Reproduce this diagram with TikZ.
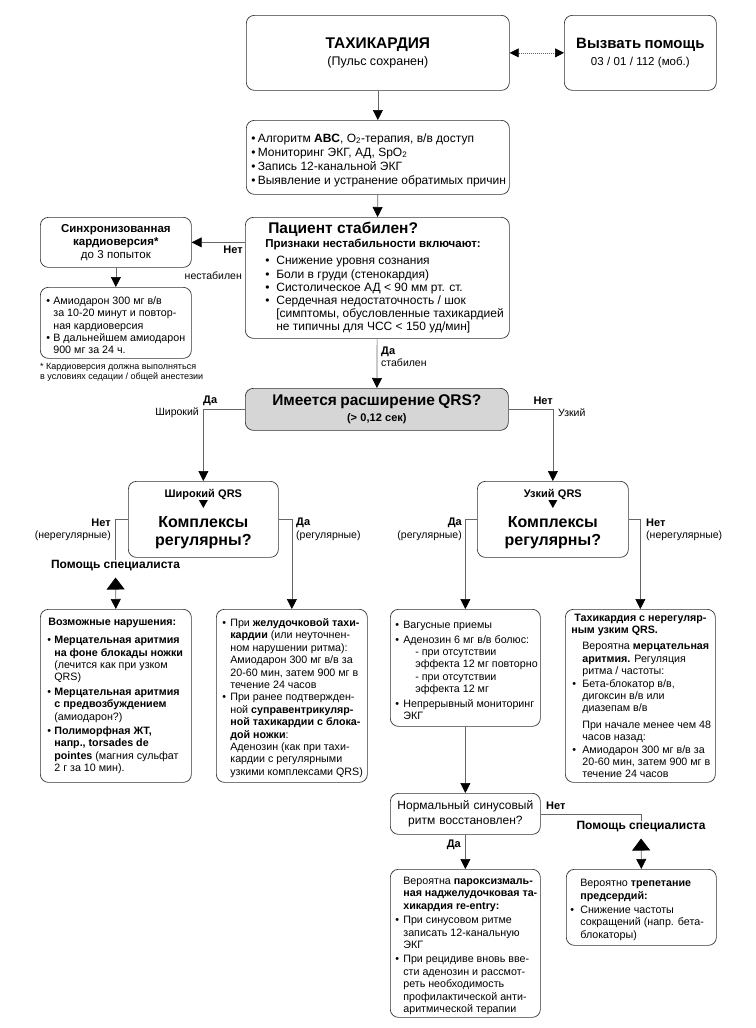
\documentclass[tikz,border=0pt]{standalone}
\usepackage{fontspec}
\setmainfont{Liberation Sans}
\usetikzlibrary{arrows.meta,positioning,calc}
\hyphenpenalty=10000 \exhyphenpenalty=10000
\newlength\bi \setlength\bi{8pt}
\newlength\bo \setlength\bo{0pt}
\newcommand\fs[2]{\fontsize{#1}{#2}\selectfont}
\newcommand\setup[3]{\leftskip=#1pt\relax\rightskip=-8pt plus 1fil\relax
  \setlength\bi{#2pt}\setlength\bo{#3pt}}
\newcommand\bul[1]{\par\noindent\hangindent=\bi\hangafter=1
  \makebox[\bi][l]{\hspace*{\bo}\textbullet}#1\par}
\newcommand\ind[1]{\par\noindent\hangindent=\bi\hangafter=0 #1\par}

\begin{document}
\begin{tikzpicture}[x=1pt, y=-1pt,
  box/.style={draw=black!80, line width=0.7pt, rounded corners=8pt,
              inner sep=0pt, anchor=north west},
  note/.style={box, align=flush left, font={\fs{10.7}{12.4}}},
  mid/.style={box, align=center},
  lbl/.style={inner sep=0pt, font={\fs{10.5}{12}}},
  blbl/.style={inner sep=0pt, font={\fs{11}{12}\bfseries}},
  help/.style={inner sep=0pt, font={\fs{12}{14}\bfseries}},
  line/.style={draw=black!60, line width=0.7pt},
  arr/.style={line, -{Triangle[length=10pt,width=10pt,color=black]}},
  twin/.style={line, {Triangle[length=12pt,width=18pt,color=black]}-{Triangle[length=10pt,width=10pt,color=black]}}
]
\useasboundingbox (0,0) rectangle (755,1028);

% top row
\node[mid, text width=263pt, minimum height=75pt] (tachy) at (246,15)
  {{\fs{15.5}{18}\bfseries ТАХИКАРДИЯ\par}{\fs{12.5}{16.5}(Пульс сохранен)\par}};
\node[mid, text width=152pt, minimum height=75pt] (call) at (564,15)
  {{\fs{15}{18}\bfseries Вызвать помощь\par}{\fs{11.5}{16.5}03 / 01 / 112 (моб.)\par}};
\node[note, text width=263pt, minimum height=74pt, font={\fs{12}{14}}] (prim) at (246,120)
  {\setup{5}{6.5}{0}
   \bul{Алгоритм \textbf{ABC}, O\textsubscript{2}-терапия, в/в доступ}
   \bul{Мониторинг ЭКГ, АД, SpO\textsubscript{2}}
   \bul{Запись 12-канальной ЭКГ}
   \bul{Выявление и устранение обратимых причин}};

% stability check
\node[note, text width=264pt, minimum height=121pt] (stable) at (245,217)
  {\setup{20}{11}{0}
   {\fs{15.5}{17}\bfseries Пациент стабилен?\par}
   {\fs{11.5}{14}\bfseries Признаки нестабильности включают:\par}
   \vspace{4pt}
   {\fs{12}{13.2}
   \bul{Снижение уровня сознания}
   \bul{Боли в груди (стенокардия)}
   \bul{Систолическое АД < 90 мм рт. ст.}
   \bul{Сердечная недостаточность / шок\newline [симптомы, обусловленные тахикардией\newline не типичны для ЧСС < 150 уд/мин]}}};
\node[mid, text width=151pt, minimum height=50pt] (sync) at (40,217)
  {{\fs{11.5}{13}\bfseries Синхронизованная\par кардиоверсия*\par}{\fs{11.5}{13}до 3 попыток\par}};
\node[note, text width=151pt, minimum height=71pt] (amio) at (40,287)
  {\setup{6}{7}{0}
   \bul{Амиодарон 300 мг в/в\newline за 10-20 минут и повтор-\newline ная кардиоверсия}
   \bul{В дальнейшем амиодарон\newline 900 мг за 24 ч.}};
\node[inner sep=0pt, anchor=north west, align=left, font={\fs{9}{10}}] (foot) at (40,363)
  {* Кардиоверсия должна выполняться\\в условиях седации / общей анестезии};

% QRS width
\node[mid, fill=black!16, text width=263pt, minimum height=42pt] (qrs) at (245,388)
  {{\fs{15.5}{17}\bfseries Имеется расширение QRS?\par}{\fs{11}{16}\bfseries (> 0,12 сек)\par}};
\node[mid, text width=150pt, minimum height=76pt] (wide) at (128,481)
  {{\fs{11}{13}\bfseries Широкий QRS\par}\vspace{12pt}{\fs{16}{18}\bfseries Комплексы\par регулярны?\par}};
\node[mid, text width=151pt, minimum height=76pt] (narrow) at (477,481)
  {{\fs{11}{13}\bfseries Узкий QRS\par}\vspace{12pt}{\fs{16}{18}\bfseries Комплексы\par регулярны?\par}};
\node[help] (help1) at (115.5,566) {Помощь специалиста};

% lower boxes
\node[note, text width=151pt, minimum height=173pt] (poss) at (40,609)
  {\setup{5}{9}{2}
   \textbf{Возможные нарушения:}\par\vspace{6pt}
   \bul{\textbf{Мерцательная аритмия}\newline\textbf{на фоне блокады ножки}\newline (лечится как при узком\newline QRS)}\vspace{2pt}
   \bul{\textbf{Мерцательная аритмия}\newline\textbf{с предвозбуждением}\newline (амиодарон?)}\vspace{2pt}
   \bul{\textbf{Полиморфная ЖТ,}\newline\textbf{напр., torsades de}\newline\textbf{pointes} (магния сульфат\newline 2 г за 10 мин).}};
\node[note, text width=151pt, minimum height=173pt] (vt) at (216,609)
  {\setup{6}{8}{0}
   \bul{При \textbf{желудочковой тахи-}\newline\textbf{кардии} (или неуточнен-\newline ном нарушении ритма):\newline Амиодарон 300 мг в/в за\newline 20-60 мин, затем 900 мг в\newline течение 24 часов}
   \bul{При ранее подтвержден-\newline ной \textbf{суправентрикуляр-}\newline\textbf{ной тахикардии с блока-}\newline\textbf{дой ножки}:\newline Аденозин (как при тахи-\newline кардии с регулярными\newline узкими комплексами QRS)}};
\node[note, text width=150pt, minimum height=117pt] (vagus) at (390,609)
  {\setup{5}{8}{0}
   \bul{Вагусные приемы}\vspace{2pt}
   \bul{Аденозин 6 мг в/в болюс:\newline\hspace*{12pt}- при отсутствии\newline\hspace*{12pt}эффекта 12 мг повторно\newline\hspace*{12pt}- при отсутствии\newline\hspace*{12pt}эффекта 12 мг}\vspace{2pt}
   \bul{Непрерывный мониторинг\newline ЭКГ}};
\node[note, text width=150pt, minimum height=173pt] (irreg) at (565,609)
  {\setup{6}{11}{1}
   \textbf{Тахикардия с нерегуляр-\newline ным узким QRS.}\par\vspace{4pt}
   \ind{Вероятна \textbf{мерцательная}\newline\textbf{аритмия.} Регуляция\newline ритма / частоты:}
   \bul{Бета-блокатор в/в,\newline дигоксин в/в или\newline диазепам в/в}\vspace{4pt}
   \ind{При начале менее чем 48\newline часов назад:}
   \bul{Амиодарон 300 мг в/в за\newline 20-60 мин, затем 900 мг в\newline течение 24 часов}};
\node[mid, text width=150pt, minimum height=41pt, font={\fs{12}{15}}] (sinus) at (390,793)
  {Нормальный синусовый\par ритм восстановлен?\par};
\node[help] (help2) at (641,827) {Помощь специалиста};
\node[note, text width=150pt, minimum height=148pt] (parox) at (390,869)
  {\setup{5}{8}{0}
   \ind{Вероятна \textbf{пароксизмаль-}\newline\textbf{ная наджелудочковая та-}\newline\textbf{хикардия re-entry:}}\vspace{2pt}
   \bul{При синусовом ритме\newline записать 12-канальную\newline ЭКГ}\vspace{2pt}
   \bul{При рецидиве вновь вве-\newline сти аденозин и рассмот-\newline реть необходимость\newline профилактической анти-\newline аритмической терапии}};
\node[note, text width=150pt, minimum height=76pt] (flut) at (566,869)
  {\setup{4}{10}{0}
   \ind{Вероятно \textbf{трепетание}\newline\textbf{предсердий:}}\vspace{2pt}
   \bul{Снижение частоты\newline сокращений (напр. бета-\newline блокаторы)}};

% labels
\node[blbl, anchor=east] (nNo) at (243,250) {Нет};
\node[lbl, anchor=east] (nUnst) at (242,276) {нестабилен};
\node[blbl, anchor=west] (nYes) at (381,352) {Да};
\node[lbl, anchor=west] (nSt) at (381,363) {стабилен};
\node[blbl, anchor=west] (qYes) at (203,401) {Да};
\node[lbl, anchor=east] (qWide) at (199,413) {Широкий};
\node[blbl, anchor=east] (qNo) at (553,401) {Нет};
\node[lbl, anchor=west] (qNar) at (558,413) {Узкий};
\node[blbl, anchor=east] (wNo) at (111,523) {Нет};
\node[lbl, anchor=east] (wIrr) at (111,536) {(нерегулярные)};
\node[blbl, anchor=west] (wYes) at (296,523) {Да};
\node[lbl, anchor=west] (wReg) at (296,536) {(регулярные)};
\node[blbl, anchor=east] (uYes) at (462,523) {Да};
\node[lbl, anchor=east] (uReg) at (462,536) {(регулярные)};
\node[blbl, anchor=west] (uNo) at (646,523) {Нет};
\node[lbl, anchor=west] (uIrr) at (646,536) {(нерегулярные)};
\node[blbl, anchor=west] (sNo) at (546,806) {Нет};
\node[blbl, anchor=east] (sYes) at (461,845) {Да};

% small marks inside the QRS boxes
\fill ($(wide.north)+(-4.5,19)$) -- ++(9,0) -- ++(-4.5,8) -- cycle;
\fill ($(narrow.north)+(-4.5,19)$) -- ++(9,0) -- ++(-4.5,8) -- cycle;

% connectors
\draw[line, dash pattern=on 1pt off 1pt,
  {Triangle[length=9pt,width=9pt,color=black]}-{Triangle[length=9pt,width=9pt,color=black]}]
  (tachy.east) -- (call.west);
\draw[arr] (tachy) -- (prim);
\draw[arr] (prim) -- (stable);
\draw[arr] (stable.west |- sync.east) -- (sync.east);
\draw[arr] (sync) -- (amio);
\draw[arr] (stable) -- (qrs);
\draw[arr] (qrs.west) -| (wide.north);
\draw[arr] (qrs.east) -| (narrow.north);
\draw[line] (wide.west) -| (help1.north);
\draw[twin, shorten <=6pt] (help1.south) -- (poss.north);
\draw[arr] (wide.east) -| (vt.north);
\draw[arr] (narrow.west) -| (vagus.north);
\draw[arr] (narrow.east) -| (irreg.north);
\draw[arr] (vagus) -- (sinus);
\draw[arr] (sinus) -- (parox);
\draw[line] (sinus.east) -| (help2.north);
\draw[twin, shorten <=6pt] (help2.south) -- (flut.north);
\end{tikzpicture}
\end{document}
